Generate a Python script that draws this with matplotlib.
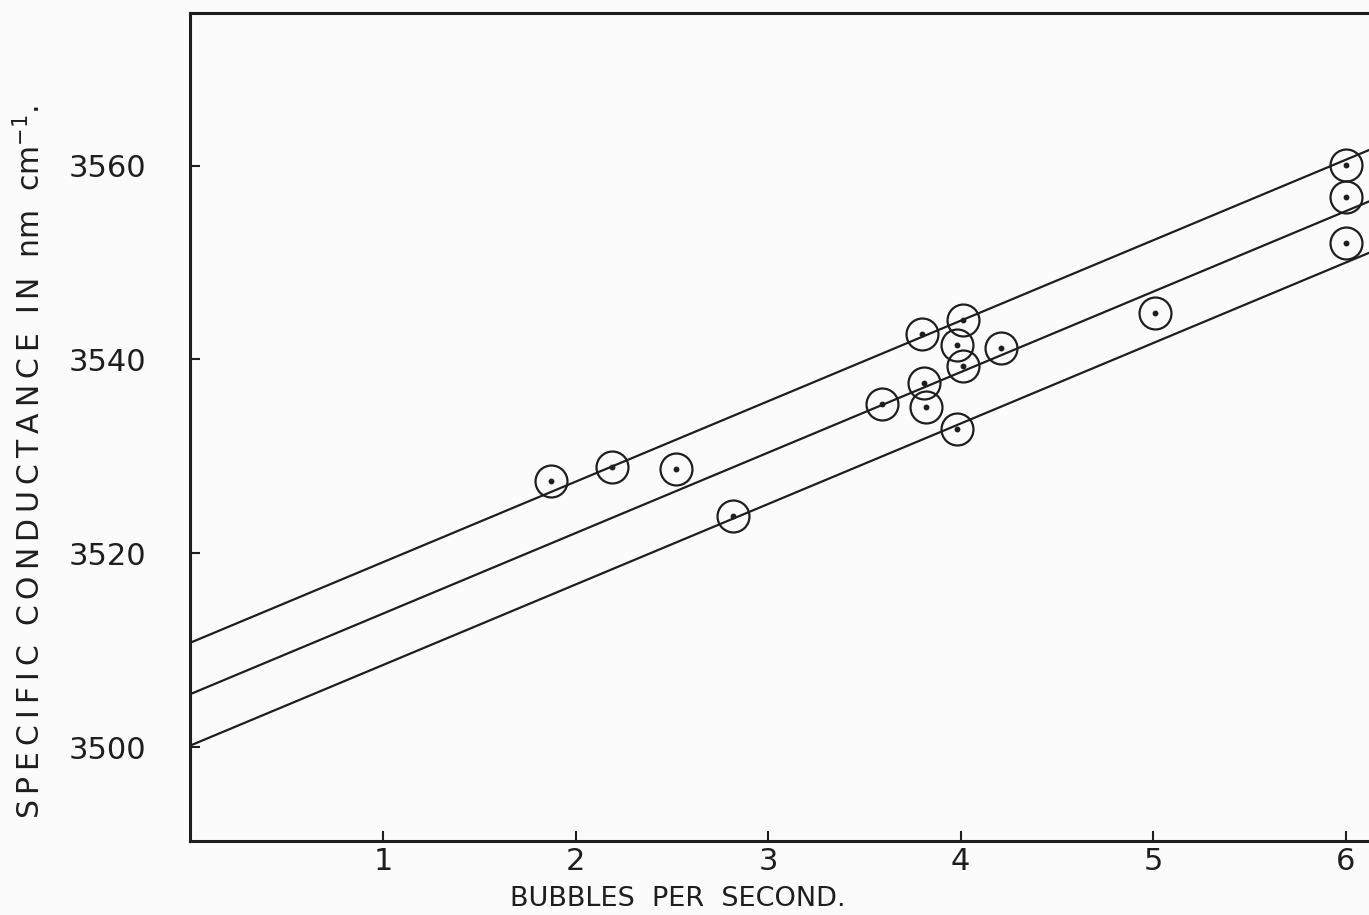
import matplotlib
matplotlib.use("Agg")
import matplotlib.pyplot as plt
import numpy as np

# Measured points: bubble rate vs specific conductance
bubbles = [1.87, 2.19, 2.52, 2.82, 3.59, 3.80, 3.81, 3.82, 4.01, 3.98, 4.01,
           3.98, 4.21, 5.01, 6.00, 6.00, 6.00]
conductance = [3527.5, 3528.9, 3528.7, 3523.9, 3535.4, 3542.6, 3537.6, 3535.1,
               3544.1, 3541.5, 3539.3, 3532.8, 3541.2, 3544.8, 3560.1, 3556.8,
               3552.0]

# Three parallel straight lines: common slope, separate intercepts
line_slope = 8.3
line_intercepts = [3510.8, 3505.5, 3500.2]

x_ticks = [1, 2, 3, 4, 5, 6]
x_tick_labels = ["1", "2", "3", "4", "5", "6"]
y_ticks = [3500, 3520, 3540, 3560]
y_tick_labels = ["3500", "3520", "3540", "3560"]

ink = "#1e1e1e"
paper = "#fbfbfb"


def spaced(word):
    # open up the lettering with thin spaces between letters
    return "\u2009".join(word)


fig = plt.figure(figsize=(13.69, 9.15), dpi=100, facecolor=paper)
ax = fig.add_axes([0.1391, 0.0814, 0.8609, 0.9041], facecolor=paper)

ax.set_xlim(0, 6.12)
ax.set_ylim(3490.4, 3575.7)

xs = np.array([0.0, 6.5])
for b in line_intercepts:
    ax.plot(xs, b + line_slope * xs, color=ink, lw=1.6, solid_capstyle="butt",
            clip_on=True)

ax.plot(bubbles, conductance, linestyle="none", marker="o", markersize=23,
        markerfacecolor="none", markeredgecolor=ink, markeredgewidth=1.6)
ax.plot(bubbles, conductance, linestyle="none", marker="o", markersize=3.2,
        color=ink)

for side in ("left", "bottom", "top"):
    ax.spines[side].set_linewidth(2.2)
    ax.spines[side].set_color(ink)
ax.spines["right"].set_visible(False)

ax.set_xticks(x_ticks)
ax.set_xticklabels(x_tick_labels)
ax.set_yticks(y_ticks)
ax.set_yticklabels(y_tick_labels)
ax.tick_params(axis="both", direction="in", length=7, width=1.5, color=ink,
               labelcolor=ink, labelsize=22)
ax.tick_params(axis="x", pad=5)
ax.tick_params(axis="y", pad=32)

# Axis titles placed in figure coordinates
fig.text(678 / 1369, 1 - 899 / 915, "BUBBLES  PER  SECOND.", fontsize=19.5,
         color=ink, ha="center", va="center")
ylabel = "  ".join([spaced("SPECIFIC"), spaced("CONDUCTANCE"), spaced("IN"),
                    "nm", "cm$^{-1}$."])
fig.text(30 / 1369, 1 - 462 / 915, ylabel, fontsize=21.5, color=ink,
         ha="center", va="center", rotation=90)

fig.savefig("out.png", dpi=100, facecolor=paper)
